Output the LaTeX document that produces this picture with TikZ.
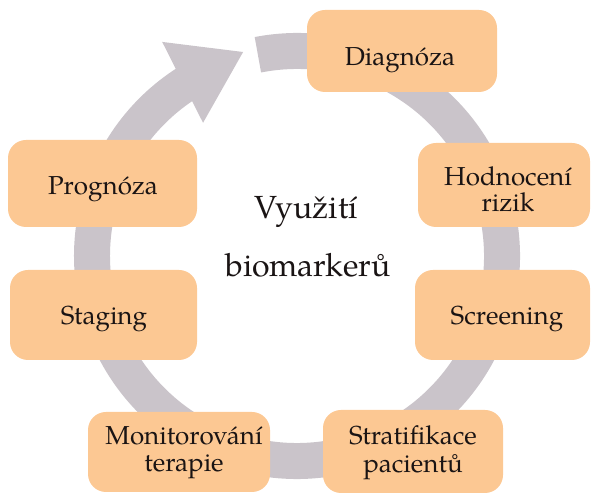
\documentclass[tikz,border=0pt]{standalone}
\usepackage{fontspec}
\setmainfont{TeX Gyre Pagella}
\definecolor{peach}{HTML}{FCC893}
\definecolor{ringgray}{HTML}{CAC4CA}
\definecolor{txt}{HTML}{1A1414}
\tikzset{
  box/.style={draw=none, fill=peach, rounded corners=18pt, inner sep=0pt},
  lbl/.style={text=txt, font=\fontsize{26}{27}\selectfont, inner sep=0pt, align=center, anchor=base},
  big/.style={text=txt, font=\fontsize{32}{34}\selectfont, inner sep=0pt, anchor=base},
  ringline/.style={draw=ringgray, line width=36pt, line cap=butt}
}
\begin{document}
\begin{tikzpicture}[x=1pt,y=1pt]
\useasboundingbox (0,0) rectangle (592,495);
\coordinate (c) at (297,239);
% ring arrow
\draw[ringline] ([shift={(101:205pt)}]c) arc[start angle=101, end angle=-239, radius=205pt];
\fill[ringgray] ([shift={(122.2:253pt)}]c) -- ([shift={(104.8:211pt)}]c) -- ([shift={(125.2:163pt)}]c) -- cycle;
% boxes
\node[box, minimum width=190pt, minimum height=82pt] (diag) at (402,444) {};
\node[box, minimum width=172pt, minimum height=84pt] (hod) at (504,310) {};
\node[box, minimum width=189pt, minimum height=87pt] (prog) at (102.5,311.5) {};
\node[box, minimum width=187pt, minimum height=90pt] (stag) at (103.5,180) {};
\node[box, minimum width=175pt, minimum height=90pt] (scr) at (502.5,180) {};
\node[box, minimum width=180pt, minimum height=83pt] (strat) at (413,43.5) {};
\node[box, minimum width=182pt, minimum height=80pt] (mon) at (179,43) {};
% labels
\node[lbl] (tdiag) at (400,429) {Diagnóza};
\node[lbl, font=\fontsize{26}{26}\selectfont] (thod) at (508,283) {Hodnocení\\rizik};
\node[lbl] (tprog) at (103,300) {Prognóza};
\node[lbl] (tstag) at (104,170) {Staging};
\node[lbl] (tscr) at (507,170) {Screening};
\node[lbl, font=\fontsize{26}{28}\selectfont] (tstrat) at (413,22) {Stratifikace\\pacientů};
\node[lbl] (tmon) at (184,23) {Monitorování\\terapie};
\node[big] (t1) at (306,276) {Využití};
\node[big] (t2) at (308,218) {biomarkerů};
\end{tikzpicture}
\end{document}
